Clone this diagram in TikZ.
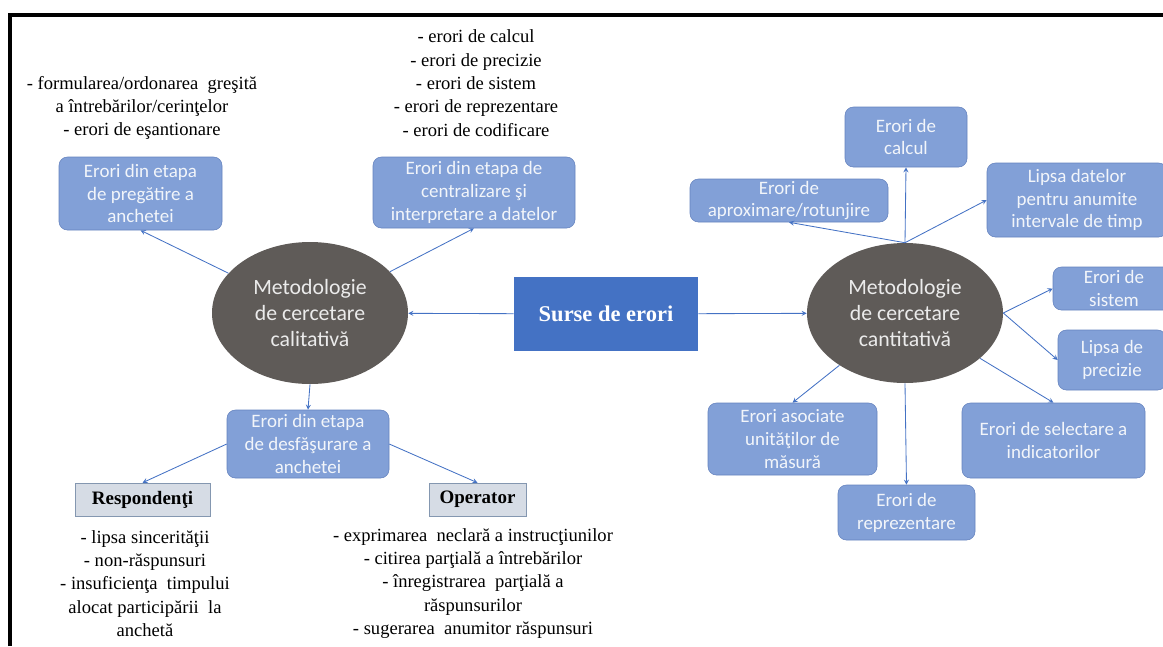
\documentclass[tikz,border=0pt]{standalone}
\usepackage{fontspec}
\setmainfont{Liberation Serif}
\newfontfamily\calibrifont{Carlito}
\usepackage{tikz}
\usetikzlibrary{arrows.meta,positioning,shapes.geometric}
\usepackage{xcolor}
\definecolor{boxblue}{RGB}{130,160,215}
\definecolor{boxedge}{RGB}{100,130,190}
\definecolor{boxtext}{RGB}{242,245,250}
\definecolor{ovalgray}{RGB}{95,91,88}
\definecolor{darkblue}{RGB}{68,114,196}
\definecolor{tagfill}{RGB}{214,220,229}
\definecolor{tagedge}{RGB}{132,151,176}
\definecolor{arrowblue}{RGB}{68,114,196}

\begin{document}
\begin{tikzpicture}[x=0.25mm,y=-0.25mm,
	dims/.style 2 args={minimum width=#1*0.25mm,minimum height=#2*0.25mm},
	erori/.style={rounded corners=6pt,draw=boxedge,fill=boxblue,text=boxtext,align=center,inner sep=0pt,
		font=\calibrifont\fontsize{13.5}{16.3}\selectfont},
	metoda/.style={ellipse,fill=ovalgray,text=white!92!black,align=center,inner sep=0pt,
		font=\calibrifont\fontsize{15.5}{18.5}\selectfont},
	tag/.style={draw=tagedge,fill=tagfill,inner sep=0pt,font=\bfseries\fontsize{13.5}{16}\selectfont},
	note/.style={align=center,inner sep=0pt,font=\fontsize{13.2}{16.6}\selectfont}]
	\clip (0,0) rectangle (1163,646);
	\draw[line width=2.2pt] (10,646) -- (10,15) -- (1163,15);

	\node[fill=darkblue,text=white,inner sep=0pt,font=\bfseries\fontsize{16}{19}\selectfont,dims={184}{74}] (surse) at (606,314) {Surse de erori};

	\node[metoda,dims={196}{142}] (calit) at (310,313) {Metodologie\\de cercetare\\calitativă};
	\node[metoda,dims={196}{140}] (cantit) at (905,313) {Metodologie\\de cercetare\\cantitativă};

	\begin{scope}[every node/.style={erori}]
		\node[dims={163}{73}] (prep) at (140.5,193.5) {Erori din etapa\\de pregătire a\\anchetei};
		\node[dims={202}{71}] (centr) at (474,192.5) {Erori din etapa de\\centralizare şi\\interpretare a datelor};
		\node[dims={162}{68}] (desf) at (308,444) {Erori din etapa\\de desfăşurare a\\anchetei};

		\node[dims={122}{60}] (calcul) at (906,137) {Erori de\\calcul};
		\node[dims={198}{43}] (aprox) at (789,200.5) {Erori de\\aproximare/rotunjire};
		\node[dims={180}{74}] (lipsadate) at (1077,200) {Lipsa datelor\\pentru anumite\\intervale de timp};
		\node[dims={122}{43}] (sistem) at (1114,288.5) {Erori de\\sistem};
		\node[dims={108}{60}] (precizie) at (1112,360) {Lipsa de\\precizie};
		\node[dims={183}{75}] (select) at (1053.5,440.5) {Erori de selectare a\\indicatorilor};
		\node[dims={169}{72}] (unitati) at (792.5,439) {Erori asociate\\unităţilor de\\măsură};
		\node[dims={137}{55}] (repr) at (906.5,512.5) {Erori de\\reprezentare};
	\end{scope}

	\node[tag,dims={135}{33}] (resp) at (142.5,499.5) {Respondenţi};
	\node[tag,dims={97}{33}] (oper) at (477.5,499.5) {Operator};

	\node[note] (prepnote) at (142,108) {- formularea/ordonarea\ \ greşită\\a întrebărilor/cerinţelor\\- erori de eşantionare};
	\node[note] (centrnote) at (476,83) {- erori de calcul\\- erori de precizie\\- erori de sistem\\- erori de reprezentare\\- erori de codificare};
	\node[note] (respnote) at (145,583.5) {- lipsa sincerităţii\\- non-răspunsuri\\- insuficienţa\ \ timpului\\alocat participării\ \ la\\anchetă};
	\node[note] (opernote) at (473,583.5) {- exprimarea\ \ neclară a instrucţiunilor\\- citirea parţială a întrebărilor\\- înregistrarea\ \ parţială a\\răspunsurilor\\- sugerarea\ \ anumitor răspunsuri};

	\begin{scope}[every edge/.style={draw,arrowblue,line width=0.6pt}]
		\path[-stealth] (surse) edge (calit);
		\path[-stealth] (surse) edge (cantit);

		\path[-stealth] (calit) edge (prep.south);
		\path[-stealth] (calit) edge (centr.south);
		\path[-stealth] (calit.south) edge (desf.north);
		\path[-stealth] (desf.west) edge (resp.north);
		\path[-stealth] (desf.east) edge (oper.north);

		\path[-stealth] (cantit.north) edge (calcul.south);
		\path[-stealth] (cantit.north) edge (aprox.south);
		\path[-stealth] (cantit.north) edge (lipsadate.west);
		\path[-stealth] (cantit.east) edge (sistem.west);
		\path[-stealth] (cantit.east) edge (precizie.west);
		\path[-stealth] (cantit) edge (select.north);
		\path[-stealth] (cantit) edge (unitati.north);
		\path[-stealth] (cantit.south) edge (repr.north);
	\end{scope}
\end{tikzpicture}
\end{document}
